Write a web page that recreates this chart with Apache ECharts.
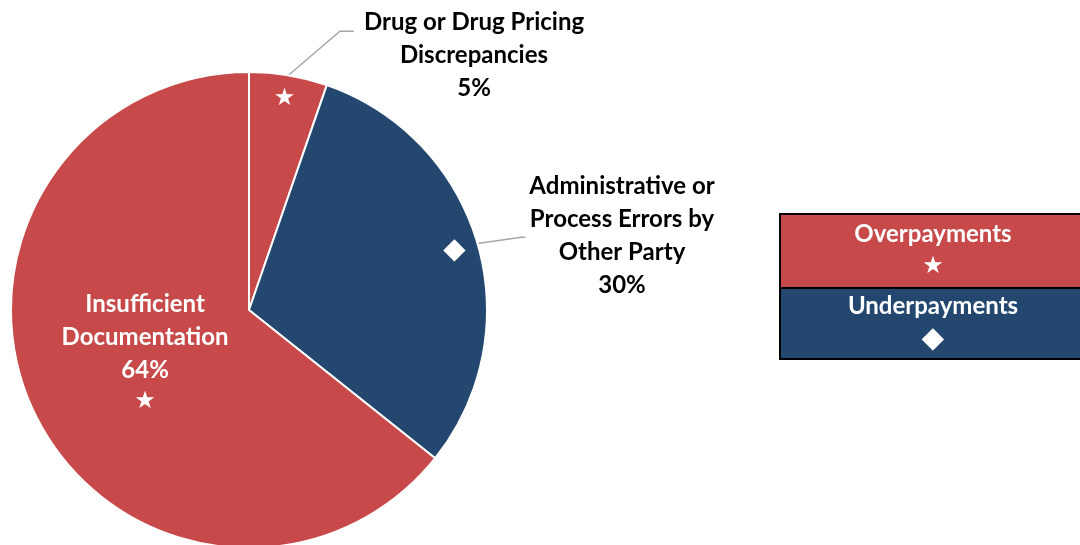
<!DOCTYPE html>
<html>
<head>
<meta charset="utf-8">
<script src="https://cdn.jsdelivr.net/npm/echarts@6/dist/echarts.min.js"></script>
<style>
html,body{margin:0;padding:0;background:#fff;}
#chart{width:1080px;height:545px;}
</style>
</head>
<body>
<div id="chart"></div>
<script>
// ---- data ----
const categories = ['Drug or Drug Pricing\nDiscrepancies', 'Administrative or\nProcess Errors by\nOther Party', 'Insufficient\nDocumentation'];
const values = [5.3, 30.4, 64.3];
const paymentType = ['Overpayments', 'Underpayments', 'Overpayments'];
const labelPlacement = ['outside', 'outside', 'inside'];
const legendNames = ['Overpayments', 'Underpayments'];

// ---- styles ----
const typeColor = { Overpayments: '#C8494A', Underpayments: '#23476F' };
const typeMarker = { Overpayments: '★', Underpayments: '◆' };
const markerSize = { Overpayments: 24, Underpayments: 29 };
const FONT = 'Lato';
const FS = 24;
const pieCenter = [249, 310];
const pieRadius = 238;
// outside label placement (center of label block) and line attach fractions
const outsideLabelPos = {
  0: { x: 474, y: 55, attach: 0.26, elbow: 24, gap: 10 },
  1: { x: 622, y: 236, attach: 0.51, elbow: 8, gap: 4 }
};

const pct = v => Math.round(v) + '%';

const mainData = categories.map((c, i) => {
  const t = paymentType[i];
  const inside = labelPlacement[i] === 'inside';
  return {
    name: c,
    value: values[i],
    itemStyle: { color: typeColor[t] },
    label: inside
      ? { position: 'inside', color: '#fff' }
      : { position: 'outside', color: '#000' },
    labelLine: { show: !inside }
  };
});

const markerData = categories.map((c, i) => ({
  name: c,
  value: values[i],
  label: {
    show: labelPlacement[i] === 'outside',
    fontSize: markerSize[paymentType[i]]
  }
}));

const chart = echarts.init(document.getElementById('chart'), null, { renderer: 'canvas' });

const option = {
  backgroundColor: '#fff',
  animation: false,
  series: [
    {
      type: 'pie',
      center: pieCenter,
      radius: pieRadius,
      startAngle: 90,
      clockwise: true,
      avoidLabelOverlap: false,
      silent: true,
      itemStyle: { borderColor: '#fff', borderWidth: 2 },
      label: {
        show: true,
        fontFamily: FONT,
        fontWeight: 'bold',
        fontSize: FS,
        lineHeight: 33,
        align: 'center',
        formatter: p => {
          const base = p.name + '\n' + pct(p.value);
          if (labelPlacement[p.dataIndex] === 'inside') {
            return base + '\n{m|' + typeMarker[paymentType[p.dataIndex]] + '}';
          }
          return base;
        },
        rich: {
          m: { fontSize: 24, lineHeight: 30, color: '#fff', fontFamily: 'DejaVu Sans' }
        }
      },
      labelLine: {
        lineStyle: { color: '#A6A6A6', width: 1.5 }
      },
      labelLayout: function (params) {
        const cfg = outsideLabelPos[params.dataIndex];
        if (!cfg) {
          return { dx: 6, dy: -11 };
        }
        const w = params.labelRect.width;
        const h = params.labelRect.height;
        const left = cfg.x - w / 2;
        const top = cfg.y - h / 2;
        const p0 = params.labelLinePoints ? params.labelLinePoints[0] : null;
        const yA = top + h * cfg.attach;
        const res = {
          x: cfg.x,
          y: cfg.y,
          align: 'center',
          verticalAlign: 'middle'
        };
        if (p0) {
          res.labelLinePoints = [p0, [left - cfg.elbow, yA], [left - cfg.gap, yA]];
        }
        return res;
      },
      data: mainData
    },
    {
      type: 'pie',
      center: pieCenter,
      radius: [184, pieRadius],
      startAngle: 90,
      clockwise: true,
      silent: true,
      avoidLabelOverlap: false,
      itemStyle: { color: 'rgba(0,0,0,0)', borderWidth: 0 },
      label: {
        position: 'inside',
        color: '#fff',
        fontFamily: 'DejaVu Sans',
        formatter: p => typeMarker[paymentType[p.dataIndex]]
      },
      labelLine: { show: false },
      emphasis: { disabled: true },
      data: markerData
    }
  ],
  graphic: [
    {
      type: 'group',
      left: 779,
      top: 213,
      children: legendNames.map((n, i) => ({
        type: 'group',
        y: i === 0 ? 0 : 74,
        children: [
          {
            type: 'rect',
            shape: { x: 0, y: 0, width: 310, height: i === 0 ? 74 : 71 },
            style: { fill: typeColor[n], stroke: '#000', lineWidth: 2 }
          },
          {
            type: 'text',
            x: 153,
            y: i === 0 ? 20 : 18,
            style: {
              text: n, fill: '#fff', font: 'bold ' + FS + 'px ' + FONT,
              textAlign: 'center', textVerticalAlign: 'middle'
            }
          },
          {
            type: 'text',
            x: 153,
            y: i === 0 ? 53 : 51,
            style: {
              text: typeMarker[n], fill: '#fff',
              font: markerSize[n] + 'px DejaVu Sans',
              textAlign: 'center', textVerticalAlign: 'middle'
            }
          }
        ]
      }))
    }
  ]
};

chart.setOption(option);
</script>
</body>
</html>
